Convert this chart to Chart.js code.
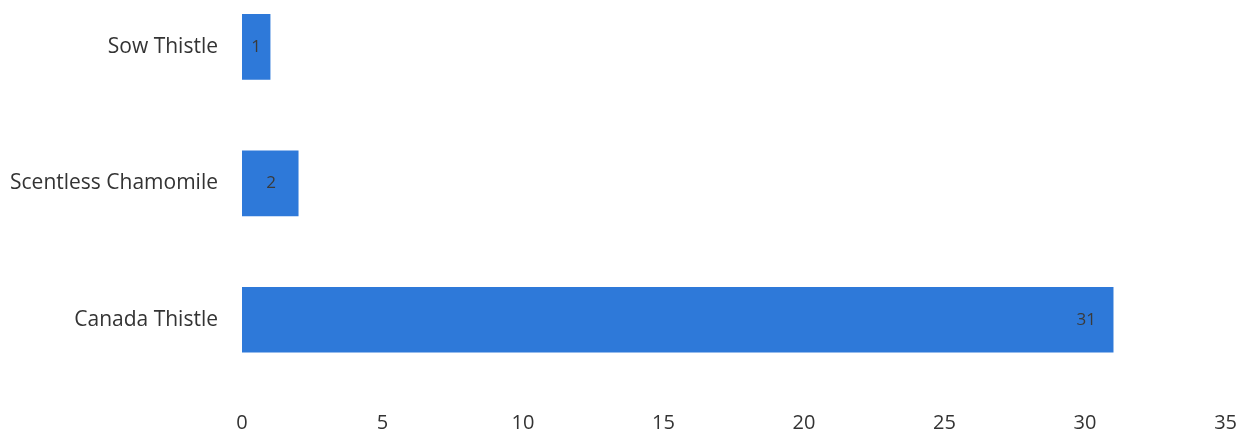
<!DOCTYPE html>
<html>
<head>
<meta charset="utf-8">
<script src="https://cdn.jsdelivr.net/npm/chart.js@4.4.1/dist/chart.umd.min.js"></script>
<style>
  html, body { margin: 0; padding: 0; background: #fff; overflow: hidden; }
  #wrap { position: relative; top: -50px; width: 1252px; height: 505px; }
</style>
</head>
<body>
<div id="wrap"><canvas id="myChart"></canvas></div>
<script>
const categories = ['Sow Thistle', 'Scentless Chamomile', 'Canada Thistle'];
const counts = [1, 2, 31];
const xTicks = [0, 5, 10, 15, 20, 25, 30, 35];

// draw the value just inside the end of each bar
const barValues = {
  id: 'barValues',
  afterDatasetsDraw(chart) {
    const ctx = chart.ctx;
    ctx.save();
    ctx.font = '17px "Open Sans", sans-serif';
    ctx.fillStyle = '#3a3a3a';
    ctx.textAlign = 'center';
    ctx.textBaseline = 'middle';
    chart.getDatasetMeta(0).data.forEach((bar, i) => {
      const w = bar.x - bar.base;
      ctx.fillText(counts[i], bar.x - Math.min(27, w / 2), bar.y);
    });
    ctx.restore();
  }
};

const ctx = document.getElementById('myChart');
new Chart(ctx, {
  type: 'bar',
  data: {
    labels: categories,
    datasets: [{
      data: counts,
      backgroundColor: '#2e79d9',
      borderWidth: 0,
      barThickness: 65
    }]
  },
  options: {
    indexAxis: 'y',
    responsive: true,
    maintainAspectRatio: false,
    animation: false,
    layout: { padding: { left: 0, right: 24, top: 0, bottom: 5 } },
    plugins: {
      legend: { display: false },
      tooltip: { enabled: false }
    },
    scales: {
      x: {
        min: 0,
        max: 35,
        afterBuildTicks: (scale) => { scale.ticks = xTicks.map(v => ({ value: v })); },
        grid: { display: false },
        border: { display: false },
        ticks: {
          color: '#333',
          padding: 15,
          font: { family: '"Open Sans", sans-serif', size: 20 }
        }
      },
      y: {
        grid: { display: false },
        border: { display: false },
        afterFit: (scale) => { scale.width = 242; },
        ticks: {
          color: '#333',
          padding: 16,
          font: { family: '"Open Sans", sans-serif', size: 21 }
        }
      }
    }
  },
  plugins: [barValues]
});
</script>
</body>
</html>
